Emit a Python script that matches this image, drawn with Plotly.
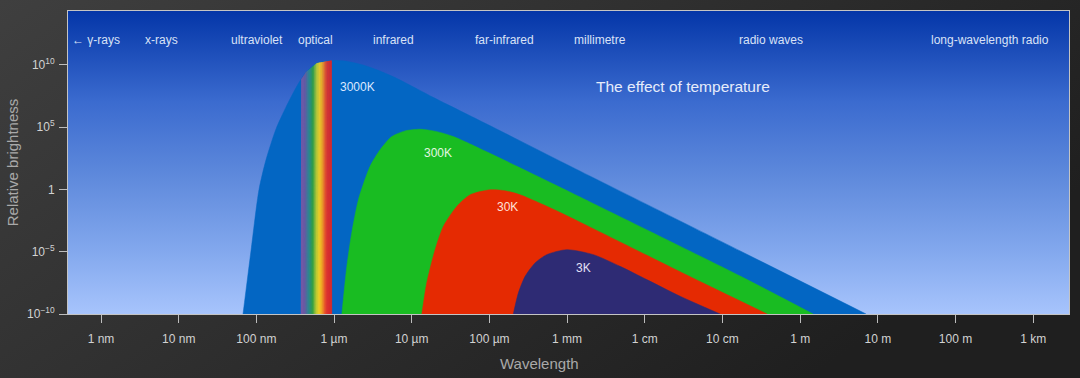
import base64
import numpy as np
import plotly.graph_objects as go
from plotly.colors import sample_colorscale

# ---------------- data ----------------
# wavelength in metres, relative brightness
wavelength_3000K = [6.73e-8, 8.53e-8, 1.08e-7, 1.33e-7, 1.79e-7, 2.41e-7, 3.33e-7, 4.36e-7,
                    6.04e-7, 9.14e-7, 1.39e-6, 2.36e-6, 3.91e-6, 6.47e-6, 1.88e-5, 4.58e-5,
                    1.37e-4, 8.13e-4, 0.169, 7.06]
brightness_3000K = [1e-10, 1.22e-5, 0.955, 240, 7.31e4, 4.24e6, 2.04e8, 2.70e9,
                    1.42e10, 2.25e10, 2.06e10, 9.82e9, 3.24e9, 8.13e8, 2.54e7, 1.59e6,
                    5.25e4, 189, 1.16e-5, 1e-10]

wavelength_300K = [1.26e-6, 1.46e-6, 1.69e-6, 2.06e-6, 2.90e-6, 3.91e-6, 5.53e-6, 8.20e-6,
                   1.28e-5, 2.06e-5, 3.44e-5, 9.25e-5, 2.48e-4, 8.13e-4, 0.169, 1.47]
brightness_300K = [1e-10, 6.76e-7, 3.39e-4, 0.150, 69.7, 1.52e3, 1.77e4, 5.06e4,
                   6.92e4, 4.60e4, 1.77e4, 1.05e3, 54.8, 1.50, 1.11e-7, 1e-10]

wavelength_30K = [1.35e-5, 1.56e-5, 2.00e-5, 2.55e-5, 3.80e-5, 5.64e-5, 1.02e-4, 1.59e-4,
                  2.48e-4, 6.65e-4, 1.47e-3, 0.0515, 0.376]
brightness_30K = [1e-10, 3.16e-8, 1.47e-5, 1.08e-3, 0.0435, 0.376, 0.946, 0.787,
                  0.376, 0.0259, 2.36e-3, 4.02e-8, 1e-10]

wavelength_3K = [2.03e-4, 2.36e-4, 2.88e-4, 3.87e-4, 5.47e-4, 9.91e-4, 2.18e-3, 4.81e-3,
                 0.0106, 0.0285, 0.0933]
brightness_3K = [1e-10, 5.00e-9, 1.07e-7, 1.27e-6, 5.86e-6, 1.47e-5, 5.86e-6, 6.76e-7,
                 5.81e-8, 2.67e-9, 1e-10]

visible_band = [3.76e-7, 9.33e-7]

band_labels = ["\u2190 \u03b3-rays", "x-rays", "ultraviolet", "optical", "infrared",
               "far-infrared", "millimetre", "radio waves", "long-wavelength radio"]
band_centres = [8.63e-10, 6.01e-9, 1.005e-7, 5.69e-7, 5.83e-6, 1.57e-4, 2.66e-3, 0.423, 275]

temp_labels = ["3000K", "300K", "30K", "3K"]
temp_label_wavelength = [1.125e-6, 1.35e-5, 1.18e-4, 1.23e-3]
temp_label_brightness = [1.55e8, 873, 0.0389, 5.04e-7]

x_tickvals = [1e-9, 1e-8, 1e-7, 1e-6, 1e-5, 1e-4, 1e-3, 1e-2, 1e-1, 1, 10, 100, 1000]
x_ticktext = ["1 nm", "10 nm", "100 nm", "1 \u00b5m", "10 \u00b5m", "100 \u00b5m", "1 mm",
              "1 cm", "10 cm", "1 m", "10 m", "100 m", "1 km"]
y_tickvals = [1e-10, 1e-5, 1, 1e5, 1e10]
y_ticktext = ["10<sup>\u221210</sup>", "10<sup>\u22125</sup>", "1", "10<sup>5</sup>",
              "10<sup>10</sup>"]

# ---------------- styling ----------------
FONT = "Liberation Sans, Arial, Helvetica, sans-serif"
colors = {"3000K": "#0366c3", "300K": "#19bc22", "30K": "#e52a02", "3K": "#2e2b74"}
label_colors = {"3000K": "#dce8ff", "300K": "#e2f7e0", "30K": "#ffe0d8", "3K": "#e2e0f6"}

W, H = 1080, 378
ML, MR, MT, MB = 68, 11, 11, 64
PW, PH = W - ML - MR, H - MT - MB


def svg_uri(svg):
    return "data:image/svg+xml;base64," + base64.b64encode(svg.encode()).decode()


paper_svg = (
    '<svg xmlns="http://www.w3.org/2000/svg" width="1080" height="378" viewBox="0 0 1080 378" '
    'preserveAspectRatio="none"><defs><linearGradient id="g" x1="0" y1="0" x2="1" y2="0.5">'
    '<stop offset="0" stop-color="#3f3f3f"/><stop offset="1" stop-color="#1f1f1f"/>'
    '</linearGradient></defs><rect width="1080" height="378" fill="url(#g)"/></svg>'
)
plot_svg = (
    '<svg xmlns="http://www.w3.org/2000/svg" width="100" height="100" viewBox="0 0 100 100" '
    'preserveAspectRatio="none"><defs><linearGradient id="g" x1="0" y1="0" x2="0" y2="1">'
    '<stop offset="0" stop-color="#0436a8"/><stop offset="0.3" stop-color="#3b6bcf"/>'
    '<stop offset="0.55" stop-color="#5f8adc"/><stop offset="0.8" stop-color="#84a9ee"/>'
    '<stop offset="1" stop-color="#a7c4fc"/></linearGradient></defs>'
    '<rect width="100" height="100" fill="url(#g)"/></svg>'
)

fig = go.Figure()


def add_curve(wl, br, name):
    c = colors[name]
    fig.add_trace(go.Scatter(
        x=wl, y=br, mode="lines", fill="toself", fillcolor=c,
        line=dict(color=c, width=0.5, shape="spline", smoothing=0.7),
        hoverinfo="skip", showlegend=False, name=name))


add_curve(wavelength_3000K, brightness_3000K, "3000K")

# rainbow (visible light) strips beneath the 3000K curve
rainbow_scale = [
    [0.0, "#7c5aa6"], [0.12, "#6b5ba3"], [0.25, "#2f8a92"], [0.38, "#32a043"],
    [0.5, "#b9cc32"], [0.6, "#f6d223"], [0.7, "#f5a324"], [0.8, "#ec4f2a"],
    [0.88, "#e0302e"], [1.0, "#dc2a2a"]]
N = 48
edges = np.logspace(np.log10(visible_band[0]), np.log10(visible_band[1]), N + 1)
lx3 = np.log10(wavelength_3000K)
ly3 = np.log10(brightness_3000K)
tops = 10 ** np.interp(np.log10(edges), lx3, ly3)
strip_cols = sample_colorscale(rainbow_scale, list(np.linspace(0, 1, N)))
for i in range(N):
    fig.add_trace(go.Scatter(
        x=[edges[i], edges[i], edges[i + 1], edges[i + 1]],
        y=[1e-10, tops[i], tops[i + 1], 1e-10],
        mode="lines", fill="toself", fillcolor=strip_cols[i],
        line=dict(color=strip_cols[i], width=0.6),
        hoverinfo="skip", showlegend=False))

add_curve(wavelength_300K, brightness_300K, "300K")
add_curve(wavelength_30K, brightness_30K, "30K")
add_curve(wavelength_3K, brightness_3K, "3K")

annotations = []
for lab, xc in zip(band_labels, band_centres):
    annotations.append(dict(
        x=np.log10(xc), y=12.0, xref="x", yref="y", text=lab, showarrow=False,
        xanchor="center", yanchor="middle",
        font=dict(family=FONT, size=12, color="#d9e2f7")))
for lab, xw, yb in zip(temp_labels, temp_label_wavelength, temp_label_brightness):
    annotations.append(dict(
        x=np.log10(xw), y=np.log10(yb), xref="x", yref="y", text=lab, showarrow=False,
        xanchor="left", yanchor="middle",
        font=dict(family=FONT, size=12, color=label_colors[lab])))
annotations.append(dict(
    x=(683 - ML) / PW, y=(314.5 - 87) / PH, xref="paper", yref="paper",
    text="The effect of temperature", showarrow=False, xanchor="center", yanchor="middle",
    font=dict(family=FONT, size=15.5, color="#e6ecfb")))
# x-axis title (sits left of the plot centre in the reference)
annotations.append(dict(
    x=(539 - ML) / PW, y=(314 - 363) / PH, xref="paper", yref="paper",
    text="Wavelength", showarrow=False, xanchor="center", yanchor="middle",
    font=dict(family=FONT, size=15, color="#a9a9a9")))

fig.update_layout(
    width=W, height=H,
    margin=dict(l=ML, r=MR, t=MT, b=MB, autoexpand=False),
    paper_bgcolor="#2d2d2d", plot_bgcolor="rgba(0,0,0,0)",
    font=dict(family=FONT, color="#cfcfcf"),
    showlegend=False,
    annotations=annotations,
    images=[
        dict(source=svg_uri(paper_svg), xref="paper", yref="paper",
             x=-ML / PW, y=1 + MT / PH, sizex=W / PW, sizey=H / PH,
             xanchor="left", yanchor="top", sizing="stretch", layer="below"),
        dict(source=svg_uri(plot_svg), xref="paper", yref="paper",
             x=0, y=1, sizex=1, sizey=1, xanchor="left", yanchor="top",
             sizing="stretch", layer="below"),
    ],
    xaxis=dict(
        type="log", range=[-9.425, 3.461], tickvals=x_tickvals, ticktext=x_ticktext,
        ticks="outside", ticklen=8, tickwidth=1, tickcolor="#bdbdbd",
        ticklabelstandoff=6,
        showline=True, linecolor="#c4c4c4", linewidth=1, mirror=True,
        showgrid=False, zeroline=False, automargin=False,
        tickfont=dict(family=FONT, size=12, color="#d2d2d2")),
    yaxis=dict(
        type="log", range=[-10, 14.333], tickvals=y_tickvals, ticktext=y_ticktext,
        ticks="outside", ticklen=8, tickwidth=1, tickcolor="#bdbdbd",
        ticklabelstandoff=2,
        showline=True, linecolor="#c4c4c4", linewidth=1, mirror=True,
        showgrid=False, zeroline=False, automargin=False,
        tickfont=dict(family=FONT, size=12, color="#d2d2d2"),
        title=dict(text="Relative brightness", standoff=4,
                   font=dict(family=FONT, size=15, color="#a9a9a9"))),
)

fig.write_html(
    "out.html",
    config={"displayModeBar": False},
    post_script="document.body.style.margin='0';document.body.style.padding='0';"
                "document.body.style.overflow='hidden';",
)
